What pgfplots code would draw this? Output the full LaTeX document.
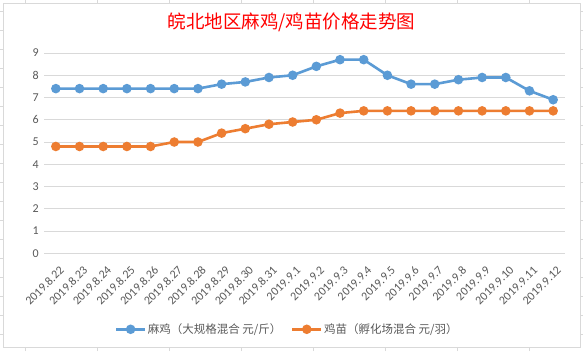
\documentclass[border=0pt]{standalone}
\usepackage{pgfplots}
\pgfplotsset{compat=1.18}
\usepackage{fontspec}
\setmainfont{Carlito}
\newfontfamily\cjk{Noto Sans CJK SC}
\definecolor{ablue}{HTML}{5B9BD5}
\definecolor{aorange}{HTML}{ED7D31}
\definecolor{gridc}{HTML}{D9D9D9}
\definecolor{tickc}{HTML}{595959}
\begin{document}
\begin{tikzpicture}[x=1pt,y=1pt]
\fill[white] (0,0) rectangle (583,351);
% spreadsheet cell lines around the chart
\foreach \yy in {11.7,30.7,49.7,68.7,87.7,106.7,125.7,144.7,163.7,182.7,201.7,220.7,239.7,258.7,277.7,296.7,315.7,334.7}{
  \draw[gridc,line width=0.8pt] (0,351-\yy) -- (3,351-\yy);
  \draw[gridc,line width=0.8pt] (580,351-\yy) -- (583,351-\yy);
}
\foreach \xx in {25.3,97.4,169.5,241.5,313.5,385.5,457.5,529.5}{
  \draw[gridc,line width=0.8pt] (\xx,351) -- (\xx,348);
  \draw[gridc,line width=0.8pt] (\xx,0) -- (\xx,4);
}
\draw[gridc,line width=0.9pt,fill=white] (3,4) rectangle (580,348);
\begin{axis}[
  at={(44pt,97.7pt)}, anchor=south west,
  scale only axis, width=521pt, height=200.3pt,
  xmin=-0.5, xmax=21.5, ymin=0, ymax=9,
  axis line style={draw=none},
  ymajorgrids, grid style={gridc,line width=0.9pt},
  major tick length=0pt,
  ytick={0,1,...,9},
  xtick={0,...,21},
  xticklabels={2019.8.22,2019.8.23,2019.8.24,2019.8.25,2019.8.26,2019.8.27,2019.8.28,2019.8.29,2019.8.30,2019.8.31,2019.9.1,2019.9.2,2019.9.3,2019.9.4,2019.9.5,2019.9.6,2019.9.7,2019.9.8,2019.9.9,2019.9.10,2019.9.11,2019.9.12},
  /pgf/number format/assume math mode=true,
  yticklabel style={font=\fontsize{12}{14}\selectfont, text=tickc, inner sep=0pt, xshift=-5pt},
  xticklabel style={font=\fontsize{12}{14}\selectfont, text=tickc, inner sep=0pt, xshift=6pt, yshift=-15pt, rotate=45, anchor=east},
  clip=false,
  legend style={at={(0.4664,-0.3794)}, anchor=center, draw=none, fill=none,
    legend columns=2, inner sep=0pt,
    font=\cjk\fontsize{11.5}{13}\selectfont, text=tickc,
    nodes={inner sep=1.5pt},
    /tikz/every even column/.append style={column sep=8pt}},
  legend image code/.code={\draw[#1, mark repeat=2, mark phase=2] plot coordinates {(0pt,0pt) (14.5pt,0pt) (29pt,0pt)};},
]
\addplot[ablue, line width=2.6pt, mark=*, mark size=3.4pt, mark options={solid}] coordinates {
(0,7.4)(1,7.4)(2,7.4)(3,7.4)(4,7.4)(5,7.4)(6,7.4)(7,7.6)(8,7.7)(9,7.9)(10,8.0)(11,8.4)(12,8.7)(13,8.7)(14,8.0)(15,7.6)(16,7.6)(17,7.8)(18,7.9)(19,7.9)(20,7.3)(21,6.9)};
\addlegendentry{麻鸡（大规格混合 元/斤）}
\addplot[aorange, line width=2.6pt, mark=*, mark size=3.4pt, mark options={solid}] coordinates {
(0,4.8)(1,4.8)(2,4.8)(3,4.8)(4,4.8)(5,5.0)(6,5.0)(7,5.4)(8,5.6)(9,5.8)(10,5.9)(11,6.0)(12,6.3)(13,6.4)(14,6.4)(15,6.4)(16,6.4)(17,6.4)(18,6.4)(19,6.4)(20,6.4)(21,6.4)};
\addlegendentry{鸡苗（孵化场混合 元/羽）}
\end{axis}
\node[text=red, font=\cjk\fontsize{18.5}{20}\selectfont] at (291.5,329) {皖北地区麻鸡/鸡苗价格走势图};
\pgfresetboundingbox
\useasboundingbox (0,0) rectangle (583,351);
\end{tikzpicture}
\end{document}
